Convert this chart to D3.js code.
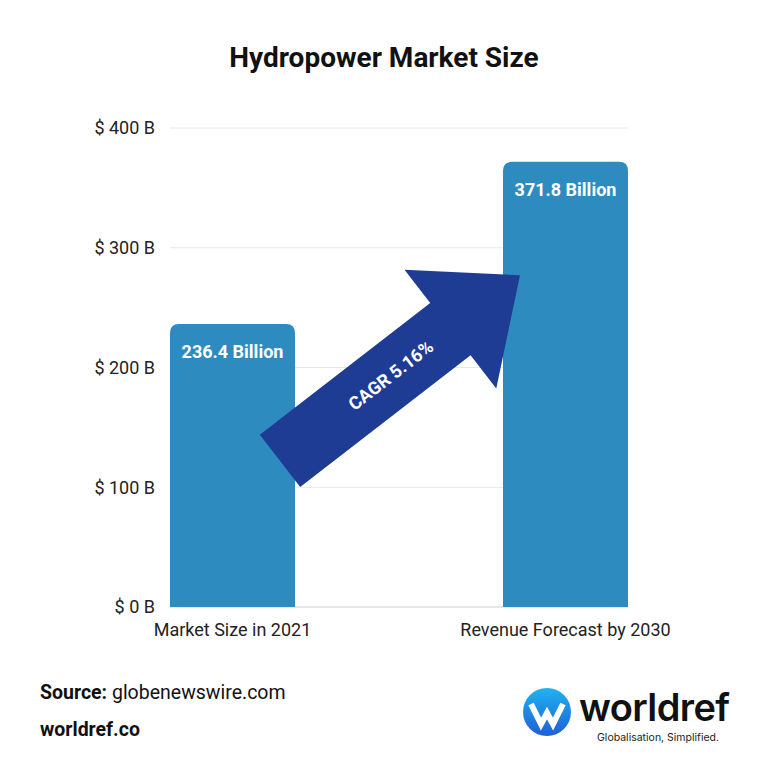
<!DOCTYPE html>
<html><head><meta charset="utf-8">
<script src="https://cdn.jsdelivr.net/npm/d3@7"></script>
<style>body{margin:0;background:#fff;}svg{display:block;font-family:Roboto,"Open Sans",sans-serif;}</style>
</head><body><svg id="c" width="768" height="768"></svg>
<script>
const categories = ["Market Size in 2021", "Revenue Forecast by 2030"];
const values = [236.4, 371.8];
const barLabels = ["236.4 Billion", "371.8 Billion"];
const tickValues = [0, 100, 200, 300, 400];
const tickLabels = ["$ 0 B", "$ 100 B", "$ 200 B", "$ 300 B", "$ 400 B"];
const cagrLabel = "CAGR 5.16%";

const svg = d3.select("#c");
const x = d3.scaleBand().domain(categories).range([170, 628]).paddingInner(208 / 333).paddingOuter(0);
const y = d3.scaleLinear().domain([0, 400]).range([607, 128]);

svg.append("text").attr("x", 384).attr("y", 67).attr("text-anchor", "middle")
  .attr("font-size", 28).attr("font-weight", 700).attr("fill", "#111").text("Hydropower Market Size");

// grid
svg.append("g").selectAll("line").data(tickValues).join("line")
  .attr("x1", 170).attr("x2", 628).attr("y1", d => y(d)).attr("y2", d => y(d))
  .attr("stroke", d => d === 0 ? "#cfcfcf" : "#e8e8e8").attr("stroke-width", 1);

// y axis labels
svg.append("g").selectAll("text").data(tickValues).join("text")
  .attr("x", 155).attr("y", d => y(d)).attr("dy", "0.35em").attr("text-anchor", "end")
  .attr("font-size", 18).attr("fill", "#222").text((d, i) => tickLabels[i]);

// bars with rounded top
const r = 9;
function barPath(x0, w, yTop, yBot) {
  return `M${x0},${yBot}V${yTop + r}Q${x0},${yTop} ${x0 + r},${yTop}H${x0 + w - r}Q${x0 + w},${yTop} ${x0 + w},${yTop + r}V${yBot}Z`;
}
svg.append("g").selectAll("path").data(values).join("path")
  .attr("d", (d, i) => barPath(x(categories[i]), x.bandwidth(), y(d), y(0)))
  .attr("fill", "#2e8bbf");

svg.append("g").selectAll("text").data(values).join("text")
  .attr("x", (d, i) => x(categories[i]) + x.bandwidth() / 2)
  .attr("y", d => y(d) + 34).attr("text-anchor", "middle")
  .attr("font-size", 18).attr("font-weight", 700).attr("fill", "#fff")
  .text((d, i) => barLabels[i]);

// category labels
svg.append("g").selectAll("text").data(categories).join("text")
  .attr("x", d => x(d) + x.bandwidth() / 2).attr("y", 636).attr("text-anchor", "middle")
  .attr("font-size", 18).attr("fill", "#222").text(d => d);

// CAGR arrow
const tail = [x(categories[0]) + x.bandwidth() - 15, y(122)];
const tip = [x(categories[1]) + 17, y(277)];
const dx = tip[0] - tail[0], dy = tip[1] - tail[1];
const len = Math.hypot(dx, dy);
const ang = Math.atan2(dy, dx) * 180 / Math.PI;
const sw = 66, hw = 150, hl = 88;
const ag = svg.append("g").attr("transform", `translate(${tail[0]},${tail[1]}) rotate(${ang})`);
ag.append("path").attr("d",
  `M0,${-sw/2}L${len-hl},${-sw/2}L${len-hl},${-hw/2}L${len},0L${len-hl},${hw/2}L${len-hl},${sw/2}L0,${sw/2}Z`)
  .attr("fill", "#1e3c94");
ag.append("text").attr("x", 140).attr("y", 0).attr("dy", "0.35em").attr("text-anchor", "middle")
  .attr("font-size", 18).attr("font-weight", 700).attr("fill", "#fff").text(cagrLabel);

// footer
const src = svg.append("text").attr("x", 40).attr("y", 699).attr("font-size", 19.5).attr("fill", "#111");
src.append("tspan").attr("font-weight", 700).text("Source:");
src.append("tspan").text(" globenewswire.com");
svg.append("text").attr("x", 40).attr("y", 736).attr("font-size", 19.5).attr("font-weight", 700).attr("fill", "#111").text("worldref.co");

// logo
const defs = svg.append("defs");
const lg = defs.append("linearGradient").attr("id", "lg").attr("x1", "0").attr("y1", "0").attr("x2", "0").attr("y2", "1");
lg.append("stop").attr("offset", "0").attr("stop-color", "#1fb3f0");
lg.append("stop").attr("offset", "1").attr("stop-color", "#1f5fd6");
svg.append("circle").attr("cx", 547).attr("cy", 712).attr("r", 24).attr("fill", "url(#lg)");
svg.append("path").attr("d", "M531,704 L541,724 L547,713 L553,724 L563,704")
  .attr("fill", "none").attr("stroke", "#fff").attr("stroke-width", 6).attr("stroke-linejoin", "miter").attr("stroke-linecap", "butt");
svg.append("text").attr("x", 579).attr("y", 721).attr("font-size", 38).attr("font-weight", 600)
  .attr("font-family", "Inter, Roboto, sans-serif").attr("letter-spacing", -0.6).attr("fill", "#111").text("worldref");
svg.append("text").attr("x", 597).attr("y", 741).attr("font-size", 10.5).attr("fill", "#222")
  .attr("font-family", "Inter, Roboto, sans-serif").text("Globalisation, Simplified.");
</script></body></html>
